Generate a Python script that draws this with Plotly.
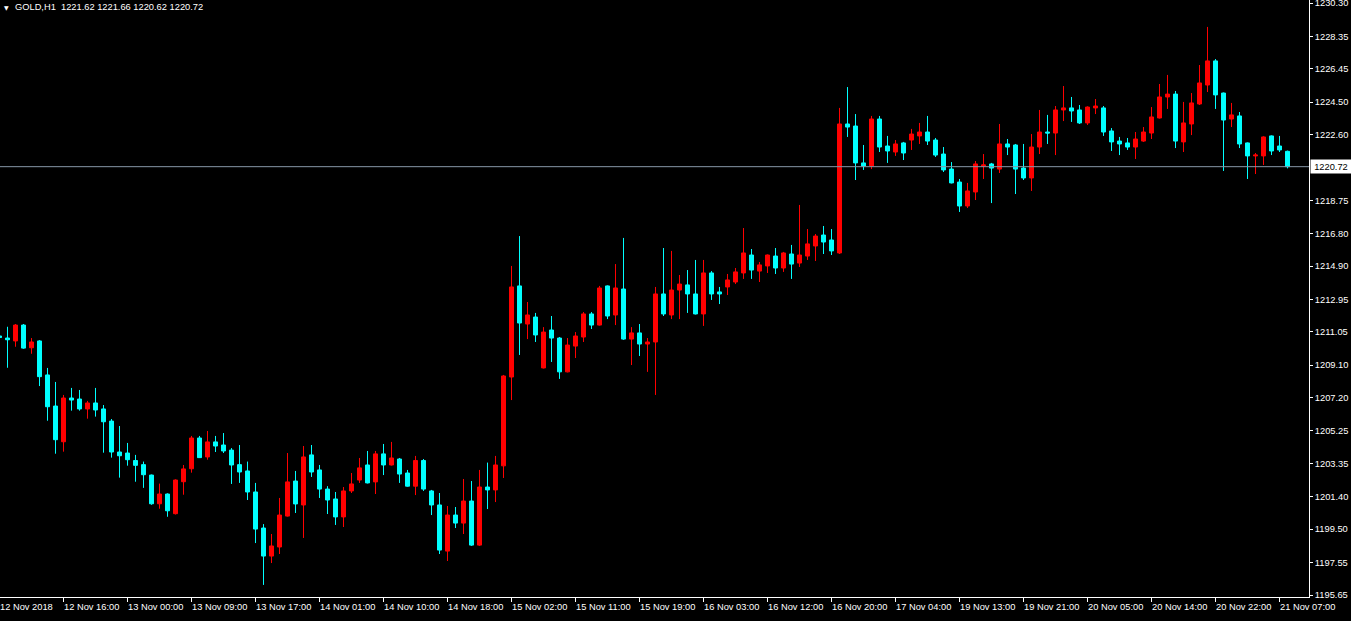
import plotly.graph_objects as go

# ---------------- data (GOLD, H1) ----------------
bar_index = list(range(-1, 161))

opens = [
    1210.81, 1210.69, 1210.52, 1211.45, 1210.12, 1210.52, 1208.53, 1206.71, 1204.62, 1207.18,
    1207.12, 1206.54, 1206.89, 1206.54, 1205.83, 1204.02, 1203.96, 1203.52, 1203.28, 1202.67,
    1200.99, 1201.56, 1200.41, 1202.28, 1203.04, 1204.84, 1203.73, 1204.61, 1204.43, 1204.13,
    1203.28, 1202.91, 1201.68, 1199.57, 1197.93, 1198.46, 1200.27, 1202.32, 1200.92, 1203.85,
    1202.97, 1201.85, 1201.27, 1200.22, 1201.74, 1202.38, 1203.26, 1202.27, 1203.91, 1203.26,
    1203.61, 1202.79, 1202.02, 1203.52, 1201.74, 1200.92, 1198.22, 1200.33, 1199.86, 1201.15,
    1198.57, 1201.97, 1201.80, 1203.21, 1208.41, 1213.74, 1211.51, 1211.92, 1208.94, 1211.16,
    1210.69, 1208.71, 1210.22, 1210.75, 1212.10, 1211.45, 1213.74, 1212.04, 1213.56, 1210.63,
    1210.99, 1210.34, 1210.46, 1213.27, 1212.04, 1213.50, 1213.80, 1213.27, 1212.10, 1214.50,
    1213.39, 1213.68, 1213.97, 1214.50, 1215.55, 1214.61, 1214.91, 1215.49, 1214.79, 1215.61,
    1215.08, 1215.49, 1216.08, 1216.72, 1216.43, 1215.67, 1223.22, 1223.10, 1220.94, 1220.76,
    1223.51, 1221.93, 1221.58, 1222.11, 1222.28, 1222.52, 1222.75, 1222.28, 1221.46, 1220.58,
    1219.82, 1218.42, 1219.24, 1220.76, 1220.88, 1220.58, 1222.05, 1221.99, 1220.64, 1220.06,
    1221.87, 1222.75, 1222.69, 1224.04, 1224.16, 1224.04, 1223.28, 1224.16, 1224.16, 1222.81,
    1222.22, 1222.11, 1221.87, 1222.22, 1222.69, 1223.57, 1224.80, 1224.97, 1222.17, 1223.22,
    1224.39, 1225.50, 1226.91, 1225.03, 1223.51, 1223.69, 1222.11, 1221.35, 1221.35, 1222.52,
    1221.93, 1221.62,
]
highs = [
    1210.87, 1211.35, 1211.51, 1211.51, 1210.69, 1210.57, 1208.94, 1208.12, 1207.36, 1207.77,
    1207.65, 1207.01, 1207.77, 1206.77, 1205.95, 1205.54, 1204.55, 1203.85, 1203.46, 1202.70,
    1202.17, 1201.60, 1202.42, 1203.26, 1204.96, 1204.96, 1205.25, 1204.96, 1205.13, 1204.25,
    1204.43, 1203.46, 1202.21, 1199.80, 1199.22, 1201.33, 1203.96, 1202.91, 1204.37, 1204.43,
    1203.26, 1202.02, 1201.68, 1201.97, 1202.79, 1203.67, 1204.08, 1204.08, 1204.49, 1204.61,
    1203.67, 1202.97, 1203.79, 1203.61, 1201.80, 1201.62, 1200.86, 1200.80, 1202.44, 1202.32,
    1202.97, 1203.40, 1203.79, 1208.53, 1214.91, 1216.66, 1212.80, 1212.16, 1211.33, 1211.98,
    1210.75, 1210.69, 1211.04, 1212.21, 1212.21, 1213.74, 1213.77, 1215.02, 1216.55, 1211.33,
    1211.51, 1210.69, 1213.68, 1215.96, 1215.79, 1214.38, 1214.67, 1215.26, 1215.26, 1214.61,
    1213.68, 1214.44, 1214.79, 1217.13, 1215.90, 1215.14, 1215.58, 1215.96, 1215.73, 1216.14,
    1218.48, 1217.07, 1216.78, 1217.25, 1217.07, 1224.16, 1225.38, 1223.80, 1221.99, 1223.69,
    1223.69, 1222.52, 1222.28, 1222.17, 1222.93, 1223.28, 1223.69, 1222.40, 1221.87, 1220.99,
    1220.00, 1219.77, 1221.05, 1221.46, 1220.94, 1223.22, 1222.34, 1222.05, 1222.05, 1222.63,
    1224.04, 1223.75, 1224.27, 1225.44, 1224.80, 1224.33, 1224.25, 1224.68, 1224.27, 1222.98,
    1222.46, 1222.40, 1222.75, 1223.04, 1224.21, 1225.56, 1226.09, 1225.15, 1224.51, 1225.03,
    1226.67, 1228.90, 1227.02, 1225.06, 1224.45, 1223.92, 1222.14, 1221.52, 1222.50, 1222.55,
    1222.52, 1221.66,
]
lows = [
    1210.63, 1208.95, 1210.18, 1210.06, 1209.77, 1207.88, 1205.85, 1203.92, 1204.04, 1206.44,
    1206.44, 1205.97, 1206.09, 1203.98, 1203.69, 1202.52, 1203.22, 1202.28, 1201.92, 1200.93,
    1200.70, 1200.23, 1200.36, 1201.52, 1202.81, 1203.67, 1203.57, 1204.02, 1203.96, 1202.15,
    1202.21, 1201.21, 1198.69, 1196.24, 1197.52, 1198.05, 1200.24, 1200.45, 1198.99, 1202.56,
    1201.33, 1200.39, 1199.75, 1199.63, 1201.62, 1202.21, 1202.18, 1201.56, 1202.67, 1203.23,
    1202.21, 1201.99, 1201.50, 1201.74, 1200.33, 1198.05, 1197.64, 1199.57, 1199.22, 1198.52,
    1198.52, 1200.68, 1201.09, 1202.50, 1207.06, 1209.70, 1210.63, 1210.46, 1208.91, 1209.29,
    1208.30, 1208.68, 1209.52, 1210.46, 1211.22, 1211.42, 1211.80, 1211.45, 1210.58, 1209.11,
    1209.64, 1208.71, 1207.36, 1211.98, 1211.80, 1211.80, 1212.16, 1212.07, 1211.40, 1212.92,
    1212.68, 1213.21, 1213.85, 1214.15, 1214.15, 1213.97, 1214.50, 1214.44, 1214.56, 1214.15,
    1214.85, 1215.26, 1215.20, 1215.61, 1215.55, 1215.61, 1222.46, 1219.94, 1220.53, 1220.58,
    1221.58, 1220.94, 1221.35, 1221.11, 1221.70, 1222.05, 1221.99, 1221.29, 1220.41, 1219.74,
    1218.07, 1218.30, 1218.77, 1220.00, 1218.59, 1220.35, 1221.40, 1219.12, 1219.94, 1219.30,
    1221.46, 1222.05, 1221.40, 1223.39, 1223.34, 1223.22, 1223.16, 1223.80, 1222.52, 1221.64,
    1221.40, 1221.70, 1221.17, 1222.17, 1222.34, 1223.54, 1224.10, 1221.81, 1221.58, 1222.57,
    1224.33, 1225.09, 1224.10, 1220.47, 1223.04, 1221.81, 1220.00, 1220.29, 1220.82, 1221.40,
    1221.58, 1220.62,
]
closes = [
    1210.72, 1210.59, 1211.45, 1210.10, 1210.46, 1208.43, 1206.67, 1204.74, 1207.18, 1207.06,
    1206.54, 1206.89, 1206.48, 1205.79, 1204.02, 1203.80, 1203.57, 1203.24, 1202.69, 1200.99,
    1201.56, 1200.58, 1202.38, 1203.03, 1204.84, 1203.69, 1204.61, 1204.37, 1204.08, 1203.26,
    1202.85, 1201.68, 1199.51, 1197.93, 1198.52, 1200.33, 1202.27, 1200.98, 1203.73, 1202.85,
    1201.85, 1201.21, 1200.22, 1201.74, 1202.15, 1203.09, 1202.21, 1203.91, 1203.26, 1203.67,
    1202.73, 1202.02, 1203.52, 1201.85, 1200.92, 1198.28, 1200.33, 1199.86, 1201.15, 1198.57,
    1201.97, 1201.80, 1203.26, 1208.47, 1213.68, 1211.57, 1212.04, 1210.87, 1211.04, 1210.69,
    1208.71, 1210.28, 1210.81, 1212.10, 1211.45, 1213.62, 1211.98, 1213.62, 1210.63, 1210.99,
    1210.34, 1210.46, 1213.27, 1212.10, 1213.50, 1213.85, 1213.27, 1212.10, 1214.50, 1213.27,
    1213.27, 1214.09, 1214.56, 1215.67, 1214.67, 1214.97, 1215.55, 1214.79, 1215.67, 1215.02,
    1215.55, 1216.20, 1216.66, 1216.31, 1215.79, 1223.22, 1223.04, 1220.94, 1220.76, 1223.51,
    1221.87, 1221.64, 1222.05, 1221.52, 1222.63, 1222.75, 1222.22, 1221.40, 1220.53, 1219.77,
    1218.42, 1219.30, 1220.88, 1220.82, 1220.64, 1222.05, 1221.87, 1220.58, 1220.06, 1221.87,
    1222.75, 1222.69, 1224.04, 1224.16, 1223.98, 1223.28, 1224.21, 1224.27, 1222.75, 1222.17,
    1222.05, 1221.87, 1222.34, 1222.75, 1223.63, 1224.80, 1224.97, 1222.22, 1223.28, 1224.45,
    1225.62, 1226.91, 1224.92, 1223.45, 1223.75, 1222.05, 1221.35, 1221.40, 1222.46, 1221.64,
    1221.70, 1220.72,
]

time_tick_bars = [-1, 7, 15, 23, 31, 39, 47, 55, 63, 71, 79, 87, 95, 103, 111, 119, 127, 135, 143, 151, 159]
time_tick_labels = [
    "12 Nov 2018", "12 Nov 16:00", "13 Nov 00:00", "13 Nov 09:00", "13 Nov 17:00",
    "14 Nov 01:00", "14 Nov 10:00", "14 Nov 18:00", "15 Nov 02:00", "15 Nov 11:00",
    "15 Nov 19:00", "16 Nov 03:00", "16 Nov 12:00", "16 Nov 20:00", "17 Nov 04:00",
    "19 Nov 13:00", "19 Nov 21:00", "20 Nov 05:00", "20 Nov 14:00", "20 Nov 22:00",
    "21 Nov 07:00",
]
price_ticks = [
    1230.30, 1228.35, 1226.45, 1224.50, 1222.60, 1218.75, 1216.80, 1214.90, 1212.95,
    1211.05, 1209.10, 1207.20, 1205.25, 1203.35, 1201.40, 1199.50, 1197.55, 1195.65,
]
price_range = [1195.533, 1230.476]
bar_range = [-0.9375, 162.6875]

symbol = "GOLD,H1"
last_price = closes[-1]
header = symbol + "\u00a0\u00a0" + " ".join(f"{v:.2f}" for v in (opens[-1], highs[-1], lows[-1], closes[-1]))

# ---------------- styling ----------------
UP = "#ff0000"
DOWN = "#00ffff"
FONT = "Liberation Sans"
FS = 9.3

fig = go.Figure(
    go.Candlestick(
        x=bar_index, open=opens, high=highs, low=lows, close=closes,
        increasing=dict(line=dict(color=UP, width=1), fillcolor=UP),
        decreasing=dict(line=dict(color=DOWN, width=1), fillcolor=DOWN),
        whiskerwidth=0, hoverinfo="skip", showlegend=False,
    )
)

fig.update_layout(
    width=1351, height=621,
    margin=dict(l=0, r=42, t=0, b=24, pad=0, autoexpand=False),
    paper_bgcolor="black", plot_bgcolor="black",
    boxgap=0.5, boxgroupgap=0,
    font=dict(family=FONT, size=FS, color="white"),
    showlegend=False,
)
fig.update_xaxes(
    range=bar_range, rangeslider_visible=False, showgrid=False, zeroline=False,
    showline=True, linecolor="white", linewidth=1, automargin=False,
    ticks="outside", ticklen=4, tickcolor="white", tickwidth=1,
    tickvals=time_tick_bars[1:], showticklabels=False,
)
fig.update_yaxes(
    side="right", range=price_range, showgrid=False, zeroline=False,
    showline=True, linecolor="white", linewidth=1, automargin=False,
    ticks="outside", ticklen=3, tickcolor="white", tickwidth=1,
    tickvals=price_ticks, ticktext=[f"{v:.2f}" for v in price_ticks],
    ticklabeloverflow="allow",
    tickfont=dict(family=FONT, size=FS, color="white"),
)

# time labels, left-aligned at their bars (MetaTrader style)
for b, lab in zip(time_tick_bars, time_tick_labels):
    if b < bar_range[0]:
        fig.add_annotation(
            x=0, xref="paper", y=0, yref="paper", xanchor="left", yanchor="top",
            text=lab, showarrow=False, font=dict(family=FONT, size=FS, color="white"),
            xshift=-2, yshift=-3,
        )
    else:
        fig.add_annotation(
            x=b, xref="x", y=0, yref="paper", xanchor="left", yanchor="top",
            text=lab, showarrow=False, font=dict(family=FONT, size=FS, color="white"),
            xshift=-2, yshift=-3,
        )

# current price line + label
fig.add_hline(y=last_price, line=dict(color="#8897a8", width=1))
fig.add_annotation(
    x=1, xref="paper", y=last_price, yref="y", xanchor="left", yanchor="middle",
    text=f"{last_price:.2f}", showarrow=False, bgcolor="white",
    font=dict(family=FONT, size=FS, color="black"), borderpad=1, xshift=1,
    width=38, height=11, align="center",
)
# header
fig.add_annotation(
    x=0, xref="paper", y=1, yref="paper", xanchor="left", yanchor="top",
    text="\u25bc", showarrow=False, font=dict(family="DejaVu Sans", size=6, color="white"),
    xshift=2, yshift=-2,
)
fig.add_annotation(
    x=0, xref="paper", y=1, yref="paper", xanchor="left", yanchor="top",
    text=header, showarrow=False, font=dict(family=FONT, size=FS, color="white"),
    xshift=13, yshift=0,
)

fig.write_html(
    "out.html",
    config={"displayModeBar": False},
    post_script="document.body.style.margin='0';document.body.style.background='black';",
)
